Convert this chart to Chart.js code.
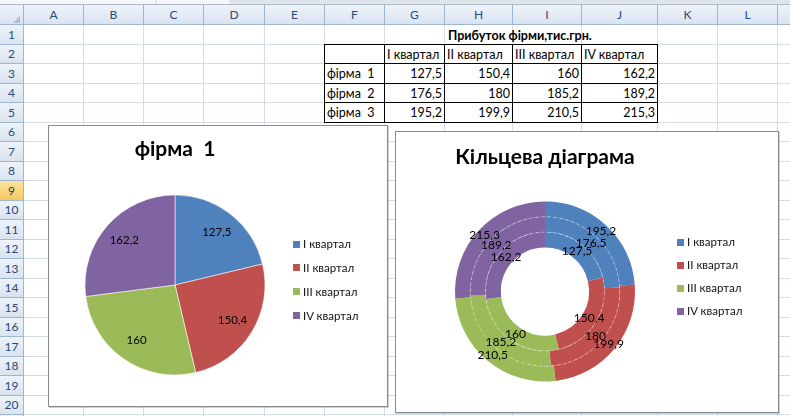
<!DOCTYPE html>
<html><head><meta charset="utf-8">
<script src="https://cdn.jsdelivr.net/npm/chart.js@4.4.0/dist/chart.umd.min.js"></script>
<style>
html,body{margin:0;padding:0;}
body{width:790px;height:416px;overflow:hidden;position:relative;background:#fff;font-family:Lato,"Liberation Sans",sans-serif;}
.a{position:absolute;box-sizing:border-box;}
.hd{background:linear-gradient(#eef3fa,#d9e3f0);color:#2b4a76;font-size:12px;text-align:center;border-right:1px solid #9eb6ce;border-bottom:1px solid #9eb6ce;}
.sel{background:linear-gradient(#fbe39f,#f6c95e);color:#2b3a56;}
.gl{background:#d6dde8;}
.cell{font-size:12.5px;color:#000;white-space:pre;}
.chart{background:#fff;border:1px solid #8a8a8a;box-shadow:1px 1px 0 rgba(0,0,0,0.18);}
.lg{font-size:11.5px;color:#111;white-space:pre;line-height:14px;}
canvas{position:absolute;left:0;top:0;}
</style></head>
<body>
<div id="sheet"></div>
<div class="a chart" style="left:48px;top:125px;width:340px;height:282px"><canvas id="c1" width="338" height="280"></canvas></div>
<div class="a chart" style="left:395px;top:131px;width:384px;height:282px"><canvas id="c2" width="382" height="280"></canvas></div>
<div id="legends"></div>
<script>
// ---- data ----
const quarters = ['I квартал','II квартал','III квартал','IV квартал'];
const firms = ['фірма  1','фірма  2','фірма  3'];
const firm1 = [127.5,150.4,160,162.2];
const firm2 = [176.5,180,185.2,189.2];
const firm3 = [195.2,199.9,210.5,215.3];
const tableTitle = 'Прибуток фірми,тис.грн.';
const chart1Title = 'фірма  1';
const chart2Title = 'Кільцева діаграма';
const colLetters = ['A','B','C','D','E','F','G','H','I','J','K','L','M'];
const sliceColors = ['#4F81BD','#C0504D','#9BBB59','#8064A2'];

const fmt = v => String(v).replace('.', ',');

// ---- spreadsheet background ----
const sheet = document.getElementById('sheet');
function el(parent, cls, x, y, w, h, txt, st){
  const d = document.createElement('div');
  d.className = 'a ' + (cls||'');
  d.style.left = x+'px'; d.style.top = y+'px'; d.style.width = w+'px'; d.style.height = h+'px';
  if (txt !== undefined && txt !== null) d.textContent = txt;
  if (st) Object.assign(d.style, st);
  parent.appendChild(d);
  return d;
}
const colEdges = [24,84,144,204,265,325,385,445,513,582,658,718,778,838];
const rowTop = n => Math.round(25 + (n-1)*19.5);

// top strip
el(sheet,'',0,0,790,5,null,{background:'#dfe4eb',borderBottom:'1px solid #aeb9c8'});
el(sheet,'',0,0,155,4,null,{background:'#f4f6f9'});
el(sheet,'',157,0,72,4,null,{background:'#f4f6f9'});
// grid lines
for (let i=1;i<colEdges.length;i++) el(sheet,'gl',colEdges[i]-1,25,1,400);
for (let n=2;n<=22;n++) el(sheet,'gl',24,rowTop(n)-1,790,1);
// column headers
el(sheet,'hd',0,5,24,20,null);
el(sheet,'',13,15,0,0,null,{borderLeft:'7px solid transparent',borderBottom:'7px solid #b4bcc8',left:'13px',top:'16px'});
for (let i=0;i<colLetters.length;i++){
  el(sheet,'hd',colEdges[i],5,colEdges[i+1]-colEdges[i],20,colLetters[i],{lineHeight:'19px'});
}
// row headers
for (let n=1;n<=21;n++){
  const y=rowTop(n), h=rowTop(n+1)-y;
  el(sheet,'hd'+(n===9?' sel':''),0,y,24,h,String(n),{lineHeight:(h-1)+'px',fontSize:'12px'});
}
// data table F2:J5
const tX = colEdges.slice(5,11); // F..J edges
const rowsData = [firm1, firm2, firm3];
el(sheet,'cell',448,rowTop(1),220,rowTop(2)-rowTop(1),tableTitle,{fontWeight:'bold',lineHeight:'21px'});
for (let r=0;r<4;r++){
  for (let c=0;c<5;c++){
    const x=tX[c], y=rowTop(r+2), w=tX[c+1]-x, h=rowTop(r+3)-y;
    let txt='', align='left';
    if (r===0 && c>0) txt=quarters[c-1];
    if (r>0 && c===0) txt=firms[r-1];
    if (r>0 && c>0){ txt=fmt(rowsData[r-1][c-1]); align='right'; }
    el(sheet,'cell',x-1,y-1,w+1,h+1,txt,{borderLeft:'1px solid #000',borderTop:'1px solid #000',background:'#fff',
      textAlign:align,paddingLeft:'2px',paddingRight:'3px',lineHeight:'20px',overflow:'hidden'});
  }
}
el(sheet,'',tX[5]-1,rowTop(2)-1,1,rowTop(6)-rowTop(2)+1,null,{background:'#000'});
el(sheet,'',tX[0]-1,rowTop(6)-1,tX[5]-tX[0]+1,1,null,{background:'#000'});

// ---- legends ----
const lgWrap = document.getElementById('legends');
function legend(x, y0, step){
  quarters.forEach((q,i)=>{
    const cy = y0 + i*step;
    el(lgWrap,'',x,Math.round(cy-3.5),7,7,null,{background:sliceColors[i]});
    el(lgWrap,'lg',x+10,Math.round(cy-7),90,14,q);
  });
}
legend(293,244,23.9);
legend(677,242,23);

// ---- chart plugins ----
const arcLabels = {
  id:'arcLabels',
  afterDatasetsDraw(chart, args, opts){
    const ctx = chart.ctx;
    ctx.save();
    ctx.font = opts.font || '11px Lato';
    ctx.fillStyle = '#000';
    ctx.textAlign = 'center';
    ctx.textBaseline = 'middle';
    chart.data.datasets.forEach((ds, di)=>{
      const meta = chart.getDatasetMeta(di);
      meta.data.forEach((arc, i)=>{
        const p = arc.getProps(['x','y','startAngle','endAngle','innerRadius','outerRadius'], true);
        const a = (p.startAngle + p.endAngle)/2;
        const r = p.innerRadius + (p.outerRadius - p.innerRadius) * (opts.frac||0.5);
        ctx.fillText(fmt(ds.data[i]), p.x + Math.cos(a)*r, p.y + Math.sin(a)*r);
      });
    });
    ctx.restore();
  }
};
const ringLines = {
  id:'ringLines',
  afterDatasetsDraw(chart){
    const ctx = chart.ctx;
    const n = chart.data.datasets.length;
    if (n < 2) return;
    ctx.save();
    ctx.strokeStyle = 'rgba(255,255,255,0.4)';
    ctx.lineWidth = 1;
    ctx.setLineDash([3,3]);
    for (let di=1; di<n; di++){
      const meta = chart.getDatasetMeta(di);
      const arc = meta.data[0];
      ctx.beginPath();
      ctx.arc(arc.x, arc.y, meta.controller.outerRadius, 0, Math.PI*2);
      ctx.stroke();
    }
    ctx.restore();
  }
};

Chart.defaults.font.family = 'Lato';

new Chart(document.getElementById('c1'), {
  type:'pie',
  data:{labels:quarters, datasets:[{label:firms[0], data:firm1, backgroundColor:sliceColors,
    borderColor:'rgba(255,255,255,0.55)', borderWidth:1}]},
  options:{
    responsive:false, animation:false, devicePixelRatio:1,
    radius:90,
    layout:{padding:{left:20,right:106,top:0,bottom:7.2}},
    plugins:{
      legend:{display:false}, tooltip:{enabled:false},
      title:{display:true, text:chart1Title, color:'#000', font:{size:21, weight:'bold', family:'Lato'}, padding:{top:11,bottom:9}},
      arcLabels:{frac:0.75, font:'11.5px Lato'}
    }
  },
  plugins:[arcLabels]
});

new Chart(document.getElementById('c2'), {
  type:'doughnut',
  data:{labels:quarters, datasets:[
    {label:firms[2], data:firm3, backgroundColor:sliceColors, borderWidth:0},
    {label:firms[1], data:firm2, backgroundColor:sliceColors, borderWidth:0},
    {label:firms[0], data:firm1, backgroundColor:sliceColors, borderWidth:0}
  ]},
  options:{
    responsive:false, animation:false, devicePixelRatio:1,
    radius:90, cutout:'49%',
    layout:{padding:{left:20,right:104,top:0,bottom:6.2}},
    plugins:{
      legend:{display:false}, tooltip:{enabled:false},
      title:{display:true, text:chart2Title, color:'#000', font:{size:21, weight:'bold', family:'Lato'}, padding:{top:13,bottom:7}},
      arcLabels:{frac:0.5, font:'12px Lato'}
    }
  },
  plugins:[ringLines, arcLabels]
});
</script>
</body></html>
